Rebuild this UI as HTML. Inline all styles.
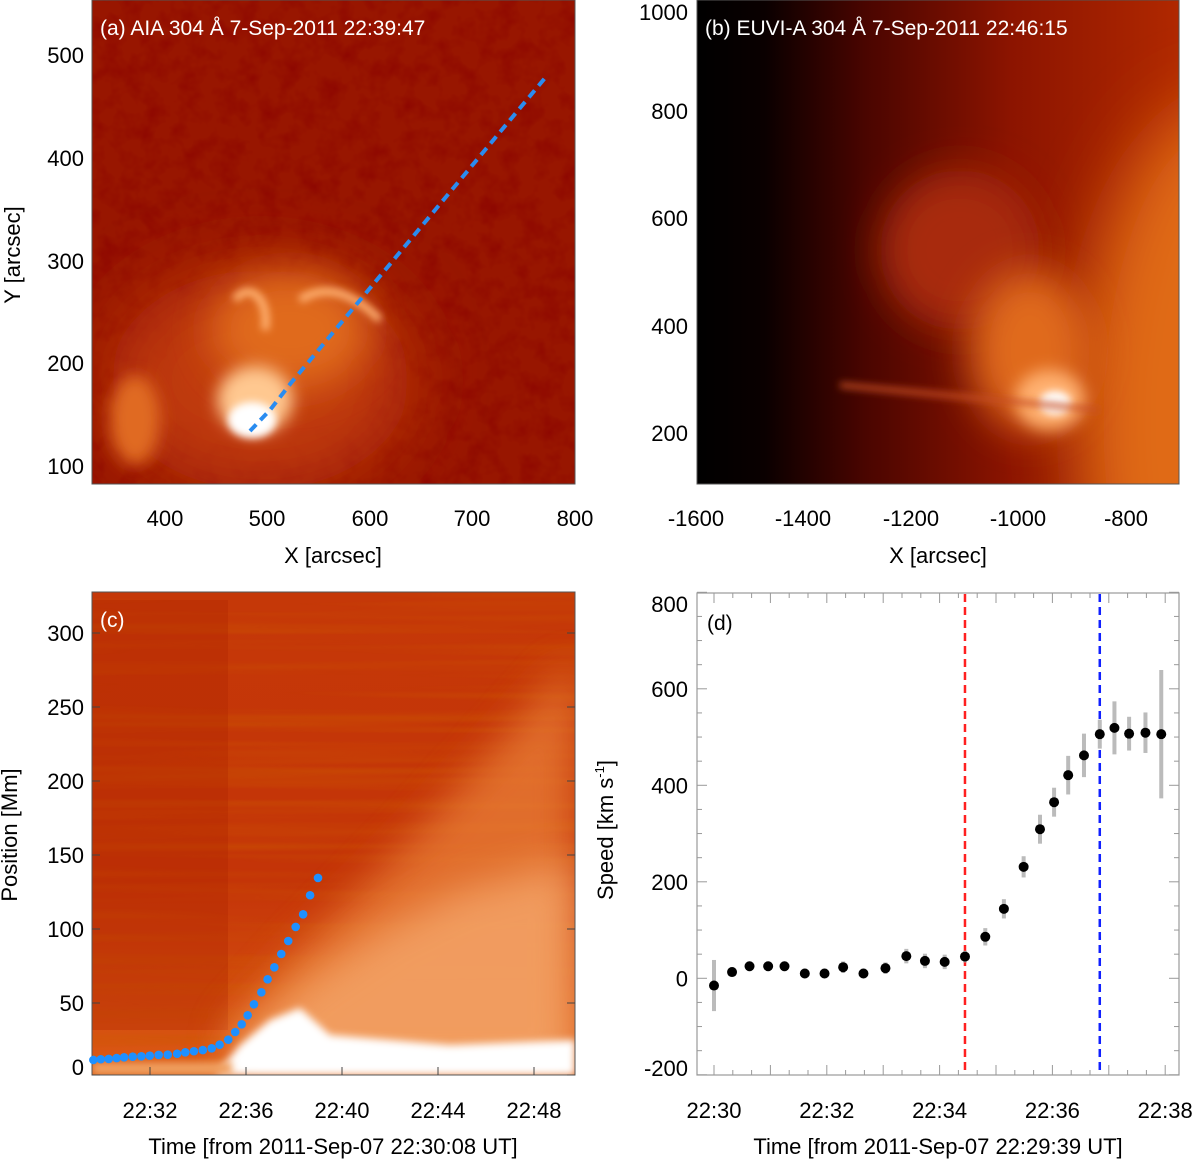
<!DOCTYPE html>
<html><head><meta charset="utf-8">
<style>
html,body{margin:0;padding:0;background:#fff;}
svg{display:block;font-family:"Liberation Sans",Arial,sans-serif;}
</style></head>
<body>
<svg id="fig" width="1200" height="1160" viewBox="0 0 1200 1160" xmlns="http://www.w3.org/2000/svg">
<defs>
  <clipPath id="clipA"><rect x="92" y="0" width="483" height="484"/></clipPath>
  <clipPath id="clipB"><rect x="697" y="0" width="482" height="484"/></clipPath>
  <clipPath id="clipC"><rect x="92" y="592" width="483" height="483"/></clipPath>
  <filter id="blur4" x="-100%" y="-100%" width="300%" height="300%"><feGaussianBlur stdDeviation="4"/></filter>
  <filter id="blur8" x="-100%" y="-100%" width="300%" height="300%"><feGaussianBlur stdDeviation="8"/></filter>
  <filter id="blur20" x="-100%" y="-100%" width="300%" height="300%"><feGaussianBlur stdDeviation="20"/></filter>
  <filter id="blur35" x="-100%" y="-100%" width="300%" height="300%"><feGaussianBlur stdDeviation="35"/></filter>
  <filter id="noise" x="0" y="0" width="100%" height="100%">
    <feTurbulence type="fractalNoise" baseFrequency="0.05" numOctaves="3" seed="3"/>
    <feColorMatrix type="matrix" values="0 0 0 0 0.25  0 0 0 0 0.0  0 0 0 0 0  0 0 0 -2.2 1.3"/>
  </filter>
  <filter id="streak" x="0" y="0" width="100%" height="100%">
    <feTurbulence type="fractalNoise" baseFrequency="0.002 0.09" numOctaves="2" seed="7"/>
    <feColorMatrix type="matrix" values="0 0 0 0 0.6  0 0 0 0 0.1  0 0 0 0 0  0 0 0 -2 1.2"/>
  </filter>
  <linearGradient id="gB" x1="0" y1="0" x2="1" y2="0">
    <stop offset="0" stop-color="#000"/>
    <stop offset="0.14" stop-color="#0a0000"/>
    <stop offset="0.35" stop-color="#4a0500"/>
    <stop offset="0.65" stop-color="#8c1400"/>
    <stop offset="1" stop-color="#b02800"/>
  </linearGradient>
  <linearGradient id="gC" x1="0" y1="0" x2="0" y2="1">
    <stop offset="0" stop-color="#c53808"/>
    <stop offset="0.6" stop-color="#c43408"/>
    <stop offset="1" stop-color="#dc5a14"/>
  </linearGradient>
</defs>

<!-- Panel A image -->
<g clip-path="url(#clipA)">
  <rect x="92" y="0" width="483" height="484" fill="#981600"/>
  <rect x="92" y="0" width="483" height="484" filter="url(#noise)" opacity="0.6"/>
  <ellipse cx="260" cy="380" rx="150" ry="110" fill="#c03a0c" filter="url(#blur35)"/>
  <ellipse cx="290" cy="330" rx="80" ry="60" fill="#e06a1c" filter="url(#blur20)"/>
  <ellipse cx="135" cy="420" rx="25" ry="45" fill="#e06a20" filter="url(#blur8)"/>
  <ellipse cx="255" cy="400" rx="38" ry="34" fill="#ffc890" filter="url(#blur8)"/>
  <ellipse cx="252" cy="420" rx="24" ry="18" fill="#fff" filter="url(#blur4)"/>
  <path d="M235,300 C250,280 270,300 265,330 M300,300 C330,280 360,300 380,320" stroke="#ffb070" stroke-width="8" fill="none" filter="url(#blur4)"/>
</g>
<polyline points="250,431 270,410 291,383 545,78" fill="none" stroke="#2a8cf0" stroke-width="4" stroke-dasharray="9,6"/>
<rect x="92" y="0" width="483" height="484" fill="none" stroke="#555" stroke-width="1"/>
<text x="100" y="35" fill="#fff" font-size="21">(a) AIA 304 Å  7-Sep-2011 22:39:47</text>
<g font-size="22" fill="#000" text-anchor="end">
  <text x="84" y="63">500</text><text x="84" y="166">400</text><text x="84" y="269">300</text><text x="84" y="371">200</text><text x="84" y="474">100</text>
</g>
<g font-size="22" fill="#000" text-anchor="middle">
  <text x="165" y="526">400</text><text x="267" y="526">500</text><text x="370" y="526">600</text><text x="472" y="526">700</text><text x="575" y="526">800</text>
</g>
<text x="333" y="563" font-size="22" text-anchor="middle">X [arcsec]</text>
<text transform="translate(20,255) rotate(-90)" font-size="22" text-anchor="middle">Y [arcsec]</text>

<!-- Panel B image -->
<g clip-path="url(#clipB)">
  <rect x="697" y="0" width="482" height="484" fill="url(#gB)"/>
  <ellipse cx="1230" cy="420" rx="150" ry="320" fill="#e06a18" filter="url(#blur35)"/>
  <ellipse cx="960" cy="250" rx="80" ry="80" fill="#a82a08" filter="url(#blur20)"/>
  <ellipse cx="1030" cy="350" rx="60" ry="80" fill="#e06a1c" filter="url(#blur20)"/>
  <ellipse cx="1050" cy="400" rx="35" ry="30" fill="#ffb070" filter="url(#blur8)"/>
  <ellipse cx="1055" cy="403" rx="16" ry="12" fill="#fff" filter="url(#blur4)"/>
  <line x1="840" y1="385" x2="1100" y2="410" stroke="#c85020" stroke-width="5" filter="url(#blur4)"/>
</g>
<rect x="697" y="0" width="482" height="484" fill="none" stroke="#555" stroke-width="1"/>
<text x="705" y="35" fill="#fff" font-size="21">(b) EUVI-A 304 Å  7-Sep-2011 22:46:15</text>
<g font-size="22" fill="#000" text-anchor="end">
  <text x="688" y="20">1000</text><text x="688" y="119">800</text><text x="688" y="226">600</text><text x="688" y="334">400</text><text x="688" y="441">200</text>
</g>
<g font-size="22" fill="#000" text-anchor="middle">
  <text x="696" y="526">-1600</text><text x="803" y="526">-1400</text><text x="911" y="526">-1200</text><text x="1018" y="526">-1000</text><text x="1126" y="526">-800</text>
</g>
<text x="938" y="563" font-size="22" text-anchor="middle">X [arcsec]</text>

<!-- Panel C image -->
<g clip-path="url(#clipC)">
  <rect x="92" y="592" width="483" height="483" fill="url(#gC)"/>
  <rect x="92" y="592" width="483" height="483" filter="url(#streak)" opacity="0.5"/>
  <rect x="92" y="600" width="136" height="430" fill="#b02400" opacity="0.35"/>
  <polygon points="228,1075 228,1030 300,950 420,830 575,660 575,1075" fill="#ea8038" opacity="0.75" filter="url(#blur20)"/>
  <polygon points="240,1040 300,985 380,930 460,890 575,860 575,1075 240,1075" fill="#f6aa70" opacity="0.75" filter="url(#blur20)"/>
  <polygon points="215,1075 240,1045 270,1020 300,1008 330,1035 450,1045 575,1040 575,1075" fill="#ffffff" filter="url(#blur4)"/>
  <rect x="92" y="1062" width="140" height="13" fill="#f0a060" filter="url(#blur4)"/>
</g>
<rect x="92" y="592" width="483" height="483" fill="none" stroke="#555" stroke-width="1"/>
<g id="cLayer"></g>
<text x="100" y="627" fill="#fff" font-size="21">(c)</text>
<text x="333" y="1154" font-size="22" text-anchor="middle">Time [from 2011-Sep-07 22:30:08 UT]</text>
<text transform="translate(17,835) rotate(-90)" font-size="22" text-anchor="middle">Position [Mm]</text>

<!-- Panel D -->
<rect x="697" y="593" width="482" height="482" fill="#fff" stroke="#999" stroke-width="1.2"/>
<g id="dLayer"></g>
<text x="707" y="630" font-size="21">(d)</text>
<text x="938" y="1154" font-size="22" text-anchor="middle">Time [from 2011-Sep-07 22:29:39 UT]</text>
<text transform="translate(613,830) rotate(-90)" font-size="22" text-anchor="middle">Speed [km s<tspan font-size="13" dy="-9">-1</tspan><tspan dy="9">]</tspan></text>

<script>
// Panel (c) data: time in minutes after 22:30, position in Mm
const cTimes = [-0.36,-0.05,0.28,0.61,0.92,1.28,1.64,1.99,2.36,2.74,3.13,3.47,3.83,4.20,4.57,4.90,5.26,5.55,5.82,6.07,6.33,6.64,6.90,7.18,7.47,7.76,8.07,8.38,8.67,9.00];
const cPositions = [11.5,12.0,12.2,12.8,13.3,13.7,14.0,14.4,14.9,15.1,15.7,16.7,17.4,18.2,19.4,21.8,25.2,30.4,35.6,41.7,49.1,57.2,66.0,74.1,83.1,91.9,101.4,109.9,122.8,134.5];
const cYTicks = [0,50,100,150,200,250,300];
const cXTicks = [2,6,10,14,18];
const cXTickLabels = ["22:32","22:36","22:40","22:44","22:48"];

// Panel (d) data: time in minutes after 22:30, speed km/s, error
const dTimes = [0.0,0.32,0.63,0.96,1.25,1.61,1.96,2.29,2.65,3.04,3.41,3.74,4.09,4.45,4.81,5.14,5.49,5.78,6.03,6.28,6.56,6.84,7.10,7.36,7.65,7.93];
const dSpeeds = [-15,13,25,25,25,10,10,23,10,21,46,36,34,45,86,144,231,309,365,421,462,506,519,507,509,506];
const dErrors = [53,10,10,10,10,10,10,12,10,12,15,15,15,12,18,20,22,30,30,40,45,30,55,35,42,133];
const dYTicks = [-200,0,200,400,600,800];
const dXTicks = [0,2,4,6,8];
const dXTickLabels = ["22:30","22:32","22:34","22:36","22:38"];
const dMarkers = [4.45,6.84];

const NS = "http://www.w3.org/2000/svg";
function mk(tag, attrs, parent){ const e=document.createElementNS(NS,tag); for(const k in attrs) e.setAttribute(k,attrs[k]); parent.appendChild(e); return e; }

const xc = m => 150 + 24*(m-2);
const yc = p => 1077 - 1.48*p;
const xd = m => 714 + 56.4*m;
const yd = v => 978.3 - 0.4825*v;

const cL = document.getElementById('cLayer');
cTimes.forEach((t,i)=>{
  const c = mk('circle',{cx:xc(t),cy:yc(cPositions[i]),r:4.3,fill:'#1e90ff'},cL);
  
  
});
cYTicks.forEach(v=>{
  const y = Math.min(yc(v), 1075);
  mk('line',{x1:92,x2:100,y1:y,y2:y,stroke:'#444'},cL);
  mk('line',{x1:567,x2:575,y1:y,y2:y,stroke:'#444'},cL);
  const t = mk('text',{x:84,y:(v===0?1067:yc(v))+8,'font-size':22,'text-anchor':'end'},cL);
  t.textContent = v;
  
  
});
cXTicks.forEach((m,i)=>{
  mk('line',{x1:xc(m),x2:xc(m),y1:1075,y2:1067,stroke:'#444'},cL);
  const t = mk('text',{x:xc(m),y:1118,'font-size':22,'text-anchor':'middle'},cL);
  t.textContent = cXTickLabels[i];
  
  
});

const dL = document.getElementById('dLayer');
for(let v=-200; v<=800; v+=50){
  const len = (v%200===0)?10:5;
  mk('line',{x1:697,x2:697+len,y1:yd(v),y2:yd(v),stroke:'#999'},dL);
  mk('line',{x1:1179-len,x2:1179,y1:yd(v),y2:yd(v),stroke:'#999'},dL);
}
for(let m=-1/3; m<=8.2; m+=1/3){
  const x = xd(m); if(x<697||x>1179) continue;
  const major = Math.abs(m-Math.round(m))<0.01;
  mk('line',{x1:x,x2:x,y1:1075,y2:1075-(major?10:5),stroke:'#999'},dL);
  mk('line',{x1:x,x2:x,y1:593,y2:593+(major?10:5),stroke:'#999'},dL);
}
dYTicks.forEach(v=>{
  let y = yd(v)+8; if(v===800) y=612; if(v===-200) y=1076;
  const t = mk('text',{x:688,y:y,'font-size':22,'text-anchor':'end'},dL);
  t.textContent = v;
  
  
});
dXTicks.forEach((m,i)=>{
  const t = mk('text',{x:xd(m),y:1118,'font-size':22,'text-anchor':'middle'},dL);
  t.textContent = dXTickLabels[i];
  
  
});
const mColors = ['#ff2020','#1020ff'];
dMarkers.forEach((m,i)=>{
  const l = mk('line',{x1:xd(m),x2:xd(m),y1:594,y2:1075,stroke:mColors[i],'stroke-width':2.5,'stroke-dasharray':'8,5'},dL);
  
  
});
dTimes.forEach((t,i)=>{
  const eb = mk('line',{x1:xd(t),x2:xd(t),y1:yd(dSpeeds[i]-dErrors[i]),y2:yd(dSpeeds[i]+dErrors[i]),stroke:'#bbb','stroke-width':4},dL);
  
  
});
dTimes.forEach((t,i)=>{
  const c = mk('circle',{cx:xd(t),cy:yd(dSpeeds[i]),r:5,fill:'#000'},dL);
  
  
});
</script>
</svg>
</body></html>
